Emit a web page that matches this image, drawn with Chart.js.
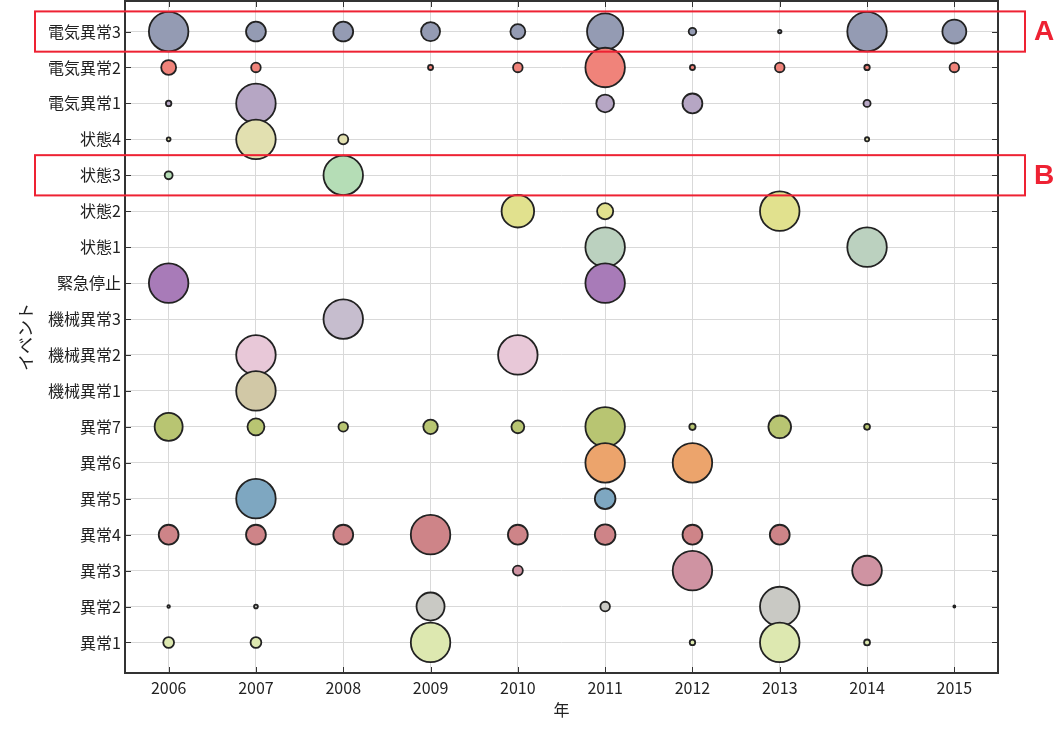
<!DOCTYPE html>
<html><head><meta charset="utf-8">
<script src="https://cdn.jsdelivr.net/npm/chart.js@4.4.1/dist/chart.umd.min.js"></script>
<style>html,body{margin:0;padding:0;background:#fff}</style>
</head><body>
<canvas id="c" width="1064" height="729"></canvas>
<script>
// ---- data ----
const years = [2006, 2007, 2008, 2009, 2010, 2011, 2012, 2013, 2014, 2015];
// events from bottom (y=1) to top (y=18)
const events = ['異常1','異常2','異常3','異常4','異常5','異常6','異常7','機械異常1','機械異常2','機械異常3','緊急停止','状態1','状態2','状態3','状態4','電気異常1','電気異常2','電気異常3'];
// relative bubble magnitude per year (null = no event)
const ijou1   = [30, 30, null, 100, null, null, 17, 100, 18, null];
const ijou2   = [10, 13, null, 72, null, 27, null, 100, null, 8];
const ijou3   = [null, null, null, null, 28, null, 100, null, 76, null];
const ijou4   = [52, 52, 52, 100, 52, 54, 52, 52, null, null];
const ijou5   = [null, 100, null, null, null, 54, null, null, null, null];
const ijou6   = [null, null, null, null, null, 100, 100, null, null, null];
const ijou7   = [72, 45, 27, 39, 35, 100, 19, 59, 18, null];
const kikai1  = [null, 100, null, null, null, null, null, null, null, null];
const kikai2  = [null, 100, null, null, 100, null, null, null, null, null];
const kikai3  = [null, null, 100, null, null, null, null, null, null, null];
const kinkyu  = [100, null, null, null, null, 100, null, null, null, null];
const joutai1 = [null, null, null, null, null, 100, null, null, 100, null];
const joutai2 = [null, null, null, null, 83, 43, null, 100, null, null];
const joutai3 = [23, null, 100, null, null, null, null, null, null, null];
const joutai4 = [13, 100, 28, null, null, null, null, null, 14, null];
const denki1  = [17, 100, null, null, null, 47, 52, null, 21, null];
const denki2  = [40, 27, null, 16, 27, 100, 16, 27, 17, 27];
const denki3  = [100, 52, 52, 50, 40, 92, 22, 12, 100, 62];
const rows = [ijou1, ijou2, ijou3, ijou4, ijou5, ijou6, ijou7, kikai1, kikai2, kikai3, kinkyu, joutai1, joutai2, joutai3, joutai4, denki1, denki2, denki3];
const colors = ['#DDE8B0','#C9C9C4','#CF93A2','#CE8488','#7EA7C1','#ECA46C','#B8C572','#D1C8A6','#E8C8D8','#C6BDCE','#A87BB8','#BBD1BF','#E1E18E','#B5DDB6','#E2E0B0','#B6A6C4','#F0837A','#949BB3'];
const highlights = [{row: 18, label: 'A'}, {row: 14, label: 'B'}];

const FONT = "'Noto Sans CJK JP', 'Noto Sans', sans-serif";
const radiusOf = v => Math.max(1, v * 0.205 - 0.75);

const datasets = rows.map((vals, i) => ({
  label: events[i],
  data: vals.map((v, j) => v == null ? null : {x: years[j], y: i + 1, r: radiusOf(v)}).filter(p => p),
  backgroundColor: colors[i],
  borderColor: '#222',
  borderWidth: 1.8,
  hoverRadius: 0
}));

const framePlugin = {
  id: 'frame',
  afterDatasetsDraw(chart) {
    const {ctx, chartArea: a, scales: {x, y}} = chart;
    ctx.save();
    ctx.strokeStyle = '#333';
    ctx.lineWidth = 1;
    const tl = 6;
    ctx.beginPath();
    years.forEach(yr => {
      const px = Math.round(x.getPixelForValue(yr)) + 0.5;
      ctx.moveTo(px, a.bottom); ctx.lineTo(px, a.bottom - tl);
      ctx.moveTo(px, a.top); ctx.lineTo(px, a.top + tl);
    });
    events.forEach((_, i) => {
      const py = Math.round(y.getPixelForValue(i + 1)) + 0.5;
      ctx.moveTo(a.left, py); ctx.lineTo(a.left + tl, py);
      ctx.moveTo(a.right, py); ctx.lineTo(a.right - tl, py);
    });
    ctx.stroke();
    ctx.lineWidth = 2;
    ctx.strokeRect(a.left, a.top, a.right - a.left, a.bottom - a.top);
    // highlight boxes
    ctx.strokeStyle = '#EE2233';
    ctx.fillStyle = '#EE2233';
    ctx.lineWidth = 2;
    ctx.font = "bold 28px 'Liberation Sans', Arial, sans-serif";
    ctx.textAlign = 'center';
    ctx.textBaseline = 'middle';
    highlights.forEach(h => {
      const top = y.getPixelForValue(h.row + 0.56);
      const bot = y.getPixelForValue(h.row - 0.56);
      const left = a.left - 90, right = a.right + 27;
      ctx.strokeRect(left, top, right - left, bot - top);
      ctx.fillText(h.label, a.right + 46, y.getPixelForValue(h.row) + 1);
    });
    ctx.restore();
  }
};

new Chart(document.getElementById('c'), {
  type: 'bubble',
  data: {datasets},
  options: {
    responsive: false,
    devicePixelRatio: 1,
    animation: false,
    events: [],
    layout: {autoPadding: false, padding: {top: 1, right: 66, left: 0, bottom: 0}},
    plugins: {legend: {display: false}, tooltip: {enabled: false}},
    scales: {
      x: {
        type: 'linear', min: 2005.5, max: 2015.5,
        afterBuildTicks: s => { s.ticks = years.map(v => ({value: v})); },
        ticks: {callback: v => String(v), color: '#222', font: {family: FONT, size: 16}, padding: 5, maxRotation: 0, autoSkip: false},
        grid: {color: '#d9d9d9', lineWidth: 1, drawTicks: false},
        border: {display: false},
        title: {display: true, text: '年', color: '#222', font: {family: FONT, size: 16}, padding: {top: 0, bottom: 9}},
        afterFit: s => { s.height = 56; s.paddingLeft = 0; s.paddingRight = 0; }
      },
      y: {
        type: 'linear', min: 0.15, max: 18.85,
        afterBuildTicks: s => { s.ticks = events.map((_, i) => ({value: i + 1})); },
        ticks: {callback: v => events[v - 1], color: '#222', font: {family: FONT, size: 16}, padding: 4, autoSkip: false},
        grid: {color: '#d9d9d9', lineWidth: 1, drawTicks: false},
        border: {display: false},
        title: {display: true, text: 'イベント', color: '#222', font: {family: FONT, size: 17}, padding: {top: 15, bottom: 0}},
        afterFit: s => { s.width = 125; s.paddingTop = 0; s.paddingBottom = 0; }
      }
    }
  },
  plugins: [framePlugin]
});
</script>
</body></html>
